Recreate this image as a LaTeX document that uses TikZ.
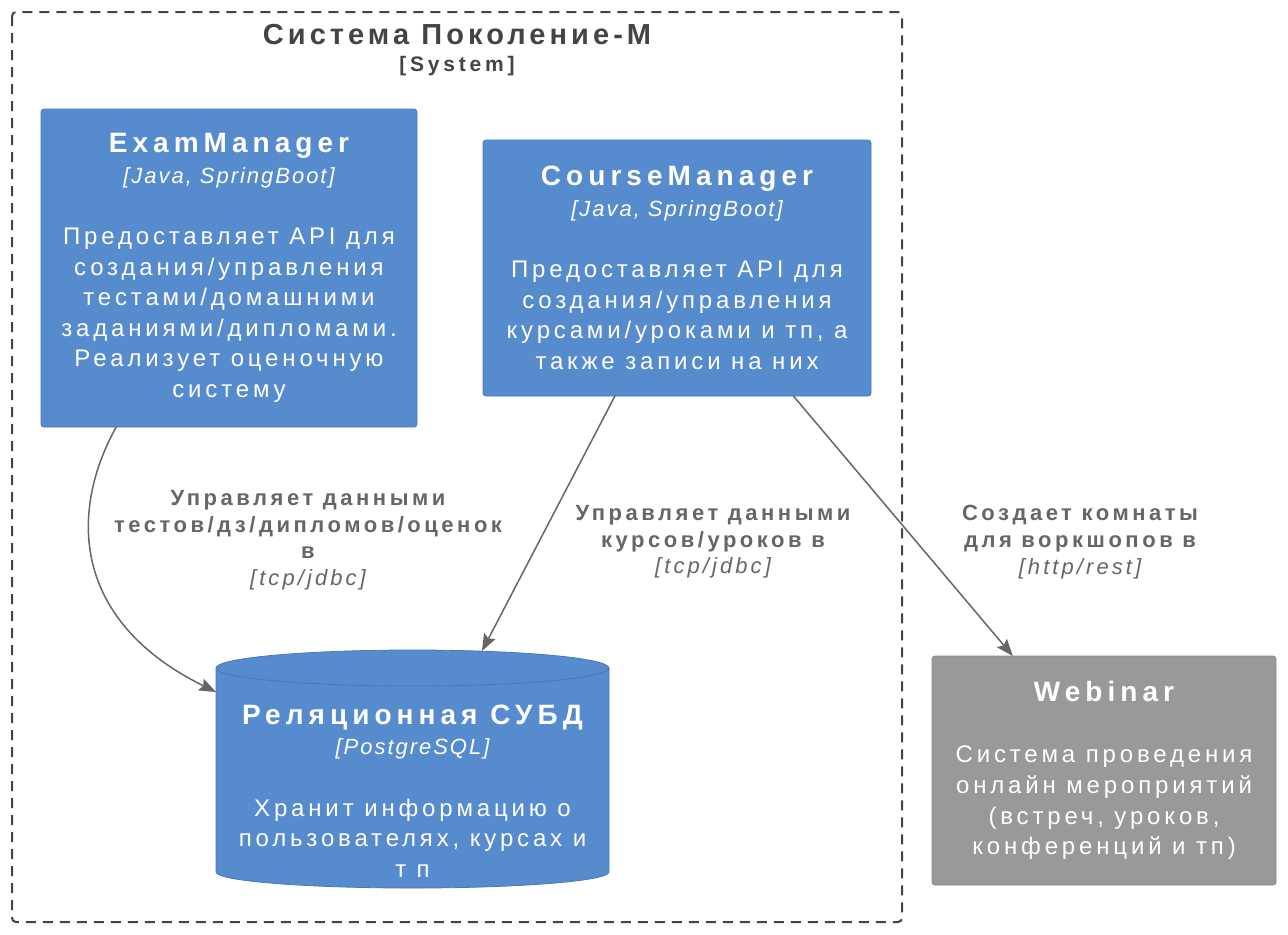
\documentclass[tikz,border=0pt]{standalone}
\usepackage{fontspec}
\setmainfont{Liberation Sans}
\newfontfamily\namefam[LetterSpace=18]{Liberation Sans}
\newfontfamily\boundfam[LetterSpace=14]{Liberation Sans}
\newfontfamily\descfam[LetterSpace=16]{Liberation Sans}
\newfontfamily\techfam[LetterSpace=9]{Liberation Sans}
\newfontfamily\relfam[LetterSpace=16]{Liberation Sans}
\newfontfamily\reltechfam[LetterSpace=14]{Liberation Sans}
\usetikzlibrary{arrows.meta, calc}

\definecolor{c4blue}{RGB}{86,139,206}
\definecolor{c4blueline}{RGB}{72,120,186}
\definecolor{c4grey}{RGB}{153,153,153}
\definecolor{c4greyline}{RGB}{136,136,136}
\definecolor{relgrey}{RGB}{102,102,102}
\definecolor{boundgrey}{RGB}{68,68,68}

\newcommand\elname[1]{{\namefam\bfseries\fontsize{14}{15.3}\selectfont #1}}
\newcommand\eltech[1]{{\techfam\itshape\fontsize{11}{15.3}\selectfont [#1]}}
\newcommand\reltech[1]{{\reltechfam\mdseries\itshape [#1]}}

\tikzset{
	elem/.style={rounded corners=1.5pt, line width=0.4pt, outer sep=0pt,
		text=white, align=center,
		font=\descfam\fontsize{12}{15.3}\selectfont},
	container/.style={elem, fill=c4blue, draw=c4blueline},
	extsystem/.style={elem, fill=c4grey, draw=c4greyline},
	rel/.style={draw=relgrey, line width=0.75pt,
		-{Stealth[length=8.5pt, width=6.5pt, inset=1.5pt]}},
	rellabel/.style={text=relgrey, align=center,
		font=\relfam\bfseries\fontsize{11}{13.3}\selectfont},
}

\begin{document}
\begin{tikzpicture}[x=0.5pt, y=-0.5pt]
	\useasboundingbox (0,0) rectangle (1288,934);

		%system boundary
	\draw[boundgrey, line width=1pt, dash pattern=on 5pt off 3.5pt,
		rounded corners=2pt] (12,12) rectangle (902,922);
	\node[text=boundgrey, font=\boundfam\bfseries\fontsize{14.5}{15.5}\selectfont]
		(sys-name) at (457,35) {Система Поколение-М};
	\node[text=boundgrey, font=\namefam\bfseries\fontsize{10.5}{12}\selectfont]
		(sys-type) at (457,66) {[System]};

		%containers
	\node[container, minimum width=188pt, minimum height=159pt]
		(exam) at (229,268) {\elname{ExamManager}\\\eltech{Java, SpringBoot}\\[15.3pt]
		Предоставляет API для\\ создания/управления\\ тестами/домашними\\
		заданиями/дипломами.\\ Реализует оценочную\\ систему};
	\node[container, minimum width=194pt, minimum height=128pt]
		(course) at (677,268) {\elname{CourseManager}\\\eltech{Java, SpringBoot}\\[15.3pt]
		Предоставляет API для\\ создания/управления\\ курсами/уроками и тп, а\\
		также записи на них};

		%database
	\fill[c4blue, draw=c4blueline, line width=0.4pt] (216,668) -- (216,872)
		arc[start angle=180, end angle=360, x radius=98.25pt, y radius=8pt]
		-- (609,668)
		arc[start angle=0, end angle=180, x radius=98.25pt, y radius=9pt] -- cycle;
	\draw[c4blueline, line width=0.4pt] (216,668)
		arc[start angle=180, end angle=360, x radius=98.25pt, y radius=9pt];
	\node[elem] (db) at (412.5,791) {\elname{Реляционная СУБД}\\\eltech{PostgreSQL}\\[15.3pt]
		Хранит информацию о\\ пользователях, курсах и\\ т п};
	\coordinate (db-side) at (216,692);
	\coordinate (db-top) at (482,651);

		%external system
	\node[extsystem, minimum width=172pt, minimum height=114.5pt]
		(webinar) at (1104,770.5) {\elname{Webinar}\\[15.3pt]
		Система проведения\\ онлайн мероприятий\\ (встреч, уроков,\\
		конференций и тп)};

		%relations
	\draw[rel] ($(exam.south west)!.2!(exam.south east)$)
		.. controls (70,510) and (70,620) .. (db-side);
	\draw[rel] ($(course.south west)!.34!(course.south east)$) -- (db-top);
	\draw[rel] ($(course.south west)!.8!(course.south east)$)
		-- ($(webinar.north west)!.235!(webinar.north east)$);

	\node[rellabel] (rel-exam) at (308,540) {Управляет данными\\
		тестов/дз/дипломов/оценок\\ в\\ \reltech{tcp/jdbc}};
	\node[rellabel] (rel-course) at (713,542) {Управляет данными\\
		курсов/уроков в\\ \reltech{tcp/jdbc}};
	\node[rellabel] (rel-webinar) at (1080,542) {Создает комнаты\\
		для воркшопов в\\ \reltech{http/rest}};
\end{tikzpicture}
\end{document}
